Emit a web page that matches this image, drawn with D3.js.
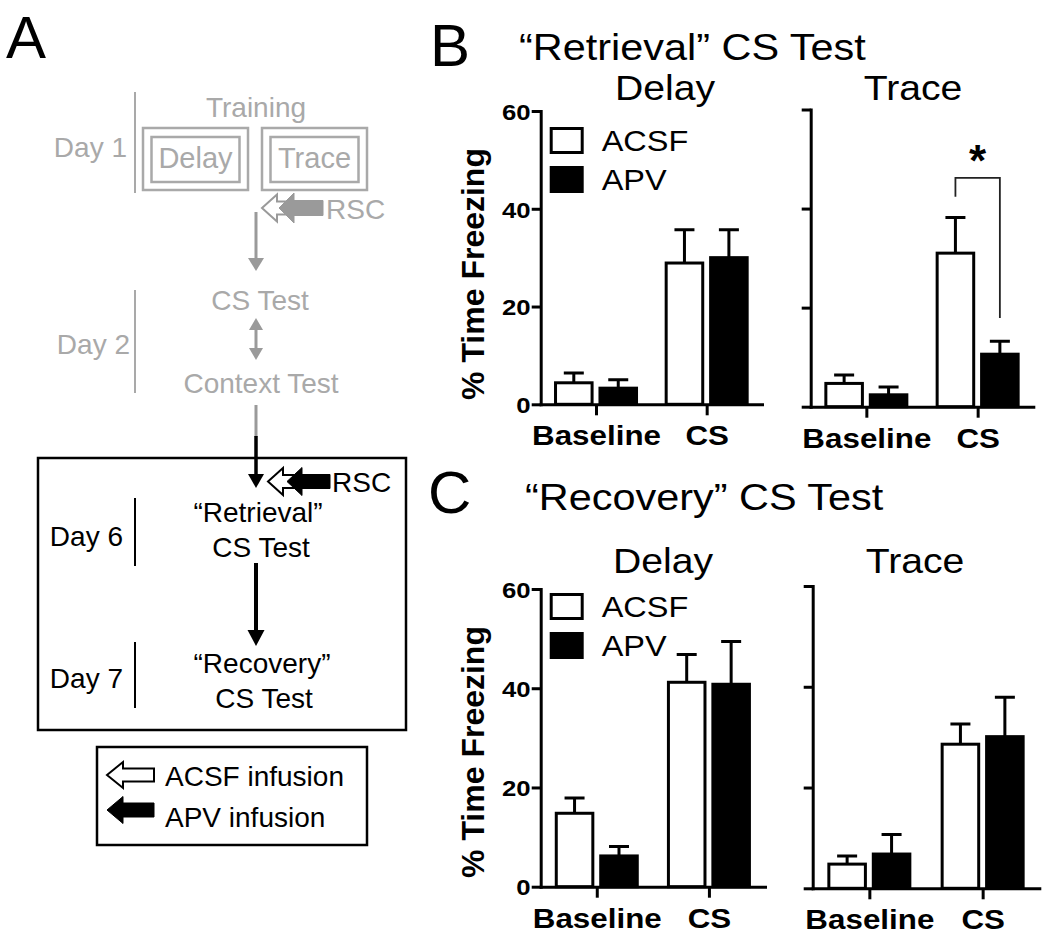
<!DOCTYPE html>
<html><head><meta charset="utf-8">
<script src="https://cdn.jsdelivr.net/npm/d3@7/dist/d3.min.js"></script>
<style>body{margin:0;background:#fff}svg{display:block}</style>
</head><body>
<svg id="chart" width="1050" height="937"></svg>
<script>
// ---------------- DATA ----------------
const categories = ["Baseline", "CS"];
const treatments = ["ACSF", "APV"];
const yTickValues = [0, 20, 40, 60];

const retrievalDelayACSF = [4.4, 28.9];
const retrievalDelayACSFsem = [2.0, 6.8];
const retrievalDelayAPV = [3.3, 30.0];
const retrievalDelayAPVsem = [1.7, 5.7];

const retrievalTraceACSF = [4.7, 31.0];
const retrievalTraceACSFsem = [1.7, 7.2];
const retrievalTraceAPV = [2.4, 10.6];
const retrievalTraceAPVsem = [1.6, 2.6];

const recoveryDelayACSF = [14.8, 41.2];
const recoveryDelayACSFsem = [3.1, 5.6];
const recoveryDelayAPV = [6.2, 40.8];
const recoveryDelayAPVsem = [1.9, 8.6];

const recoveryTraceACSF = [4.8, 28.6];
const recoveryTraceACSFsem = [1.6, 4.0];
const recoveryTraceAPV = [6.8, 30.1];
const recoveryTraceAPVsem = [3.9, 7.8];

// significance bracket (Retrieval / Trace, CS): leg ends in % units
const sigBracket = { category: "CS", leftEnd: 42.4, top: 46.2, rightEnd: 17.9, label: "*" };

// ---------------- SETUP ----------------
const FONT = "'Liberation Sans', Arial, Helvetica, sans-serif";
const SX = 1.12; // horizontal text stretch for panels B & C
const svg = d3.select("#chart");

function txt(g, x, y, s, o = {}) {
  const t = g.append("text")
    .attr("x", 0).attr("y", 0)
    .attr("transform", `translate(${x},${y}) scale(${o.sx || 1},1)` + (o.rot ? ` rotate(${o.rot})` : ""))
    .attr("font-family", FONT)
    .attr("font-size", o.size || 28)
    .attr("font-weight", o.weight || "normal")
    .attr("text-anchor", o.anchor || "start")
    .attr("fill", o.fill || "#000")
    .text(s);
  return t;
}

function buildRows(acsf, acsfSem, apv, apvSem) {
  return categories.map((c, i) => ({
    category: c,
    values: [
      { t: "ACSF", v: acsf[i], e: acsfSem[i] },
      { t: "APV", v: apv[i], e: apvSem[i] }
    ]
  }));
}

function drawPanel(p) {
  const g = svg.append("g");
  const y = d3.scaleLinear().domain([0, 60]).range([p.y0, p.y60]);
  const x = d3.scalePoint().domain(categories).range([p.x0, p.x1]).padding(0.5);
  const xs = d3.scaleBand().domain(treatments).range([-42, 42]).paddingInner(0.11);

  // title
  txt(g, p.titleX, p.titleY, p.title, { size: 35, anchor: "middle", sx: SX });

  // bars
  const grp = g.selectAll("g.cat").data(p.rows).join("g")
    .attr("transform", d => `translate(${x(d.category)},0)`);
  grp.selectAll("rect").data(d => d.values).join("rect")
    .attr("x", d => xs(d.t) + 1.5)
    .attr("width", xs.bandwidth() - 3)
    .attr("y", d => y(d.v))
    .attr("height", d => y(0) - y(d.v))
    .attr("fill", d => d.t === "ACSF" ? "#fff" : "#000")
    .attr("stroke", "#000").attr("stroke-width", 3);
  grp.selectAll("path.err").data(d => d.values).join("path")
    .attr("class", "err")
    .attr("d", d => {
      const cx = xs(d.t) + xs.bandwidth() / 2;
      return `M${cx},${y(d.v)}V${y(d.v + d.e)}M${cx - 10},${y(d.v + d.e)}H${cx + 10}`;
    })
    .attr("fill", "none").attr("stroke", "#000").attr("stroke-width", 3);

  // y axis
  const ya = g.append("g").attr("transform", `translate(${p.x0},0)`)
    .call(d3.axisLeft(y).tickValues(yTickValues).tickSize(9).tickSizeOuter(0)
      .tickFormat(p.yLabels ? d3.format("d") : () => ""));
  ya.select(".domain").attr("stroke-width", 3).attr("stroke-linecap", "square");
  ya.selectAll(".tick line").attr("stroke-width", 3);
  ya.selectAll(".tick text")
    .attr("font-family", FONT).attr("font-size", 23).attr("font-weight", "bold")
    .attr("x", -9).attr("dy", "0.36em").attr("transform", `scale(${SX},1)`);

  // x axis
  const xa = g.append("g").attr("transform", `translate(0,${p.y0})`)
    .call(d3.axisBottom(x).tickSize(11).tickSizeOuter(0));
  xa.select(".domain").attr("stroke-width", 3).attr("stroke-linecap", "square");
  xa.selectAll(".tick line").attr("stroke-width", 3);
  xa.selectAll(".tick text")
    .attr("font-family", FONT).attr("font-size", 28).attr("font-weight", "bold")
    .attr("y", 41).attr("dy", 0).attr("transform", `scale(${SX},1)`);

  // y title
  if (p.yTitle) {
    txt(g, 484, p.yTitleY, "% Time Freezing", { size: 32, weight: "bold", anchor: "middle", rot: -90 });
  }

  // legend
  if (p.legend) {
    treatments.forEach((t, i) => {
      const ly = p.legendY[i];
      g.append("rect").attr("x", p.x0 + 10.5).attr("y", ly + 1.5).attr("width", 31).attr("height", 24)
        .attr("fill", t === "ACSF" ? "#fff" : "#000").attr("stroke", "#000").attr("stroke-width", 3);
      txt(g, p.x0 + 61, ly + 24, t, { size: 29, sx: SX });
    });
  }

  // significance
  if (p.sig) {
    const s = p.sig;
    const cx = x(s.category);
    const lx = cx + xs("ACSF") + xs.bandwidth() / 2;
    const rx = cx + xs("APV") + xs.bandwidth() / 2;
    g.append("path")
      .attr("d", `M${lx},${y(s.leftEnd)}V${y(s.top)}H${rx}V${y(s.rightEnd)}`)
      .attr("fill", "none").attr("stroke", "#222").attr("stroke-width", 1.8);
    txt(g, (lx + rx) / 2, y(s.top) - 2, s.label, { size: 44, weight: "bold", anchor: "middle" });
  }
}

// panel letters & titles
txt(svg, 430, 66, "B", { size: 60 });
txt(svg, 519, 60, "\u201CRetrieval\u201D CS Test", { size: 37, sx: SX });
txt(svg, 428, 513, "C", { size: 60 });
txt(svg, 525, 510, "\u201CRecovery\u201D CS Test", { size: 37, sx: SX });

drawPanel({ x0: 540.7, x1: 762, y0: 404.3, y60: 111, title: "Delay", titleX: 665, titleY: 100,
  rows: buildRows(retrievalDelayACSF, retrievalDelayACSFsem, retrievalDelayAPV, retrievalDelayAPVsem),
  yLabels: true, yTitle: true, yTitleY: 274, legend: true, legendY: [127, 166] });
drawPanel({ x0: 810.7, x1: 1033.3, y0: 406.7, y60: 109.5, title: "Trace", titleX: 913, titleY: 100,
  rows: buildRows(retrievalTraceACSF, retrievalTraceACSFsem, retrievalTraceAPV, retrievalTraceAPVsem),
  yLabels: false, sig: sigBracket });
drawPanel({ x0: 540.7, x1: 765, y0: 886.7, y60: 589, title: "Delay", titleX: 663, titleY: 573,
  rows: buildRows(recoveryDelayACSF, recoveryDelayACSFsem, recoveryDelayAPV, recoveryDelayAPVsem),
  yLabels: true, yTitle: true, yTitleY: 752, legend: true, legendY: [593, 632] });
drawPanel({ x0: 812.7, x1: 1039.3, y0: 888.3, y60: 586, title: "Trace", titleX: 915, titleY: 573,
  rows: buildRows(recoveryTraceACSF, recoveryTraceACSFsem, recoveryTraceAPV, recoveryTraceAPVsem),
  yLabels: false });

// ---------------- PANEL A (schematic) ----------------
const A = svg.append("g");
const GRAY = "#a9a9a9", GRAYD = "#9a9a9a";
txt(A, 6, 58, "A", { size: 60 });

function leftArrow(g, tip, cy, headLen, headH, shaftH, tail, fill, stroke, sw) {
  g.append("path").attr("d",
    `M${tip},${cy}L${tip + headLen},${cy - headH / 2}V${cy - shaftH / 2}H${tail}V${cy + shaftH / 2}H${tip + headLen}V${cy + headH / 2}Z`)
    .attr("fill", fill).attr("stroke", stroke).attr("stroke-width", sw).attr("stroke-linejoin", "miter");
}
function downArrow(g, x, y1, tip, color, sw, headW, headLen) {
  g.append("line").attr("x1", x).attr("x2", x).attr("y1", y1).attr("y2", tip - headLen + 1)
    .attr("stroke", color).attr("stroke-width", sw);
  g.append("path").attr("d", `M${x - headW / 2},${tip - headLen}H${x + headW / 2}L${x},${tip}Z`).attr("fill", color);
}
function upHead(g, x, tip, color, headW, headLen) {
  g.append("path").attr("d", `M${x - headW / 2},${tip + headLen}H${x + headW / 2}L${x},${tip}Z`).attr("fill", color);
}

// Day 1
A.append("line").attr("x1", 135).attr("x2", 135).attr("y1", 92).attr("y2", 193).attr("stroke", GRAY).attr("stroke-width", 2);
txt(A, 127, 157, "Day 1", { fill: GRAY, anchor: "end" });
txt(A, 256, 117, "Training", { fill: GRAY, anchor: "middle" });
[[143, 248, "Delay"], [262, 367, "Trace"]].forEach(([a, b, s]) => {
  A.append("rect").attr("x", a).attr("y", 128).attr("width", b - a).attr("height", 62).attr("fill", "none").attr("stroke", GRAY).attr("stroke-width", 2.5);
  A.append("rect").attr("x", a + 8.5).attr("y", 137).attr("width", b - a - 17).attr("height", 45).attr("fill", "none").attr("stroke", GRAY).attr("stroke-width", 2.5);
  txt(A, (a + b) / 2, 168, s, { fill: GRAY, anchor: "middle", size: 29 });
});
leftArrow(A, 262, 208, 15, 27, 13, 300, "#fff", GRAYD, 2);
leftArrow(A, 279, 208, 15, 30, 15, 323, GRAYD, GRAYD, 1);
txt(A, 326, 219, "RSC", { fill: GRAY });
downArrow(A, 256, 212, 271, GRAYD, 3, 16, 13);

// Day 2
A.append("line").attr("x1", 135).attr("x2", 135).attr("y1", 290).attr("y2", 393).attr("stroke", GRAY).attr("stroke-width", 2);
txt(A, 130, 354, "Day 2", { fill: GRAY, anchor: "end" });
txt(A, 260, 310, "CS Test", { fill: GRAY, anchor: "middle" });
txt(A, 261, 393, "Context Test", { fill: GRAY, anchor: "middle" });
A.append("line").attr("x1", 256).attr("x2", 256).attr("y1", 328).attr("y2", 350).attr("stroke", GRAYD).attr("stroke-width", 3);
upHead(A, 256, 318, GRAYD, 14, 12);
A.append("path").attr("d", `M249,348H263L256,360Z`).attr("fill", GRAYD);

// connector
A.append("line").attr("x1", 256).attr("x2", 256).attr("y1", 405).attr("y2", 437).attr("stroke", GRAYD).attr("stroke-width", 3);

// main box
A.append("rect").attr("x", 38).attr("y", 458).attr("width", 368).attr("height", 272).attr("fill", "none").attr("stroke", "#000").attr("stroke-width", 2.5);
downArrow(A, 256, 436, 488, "#000", 3.5, 16, 14);
leftArrow(A, 268, 481.5, 15, 27, 13, 300, "#fff", "#000", 2);
leftArrow(A, 287, 481.5, 15, 28, 14, 330, "#000", "#000", 1);
txt(A, 332, 492, "RSC");

A.append("line").attr("x1", 135).attr("x2", 135).attr("y1", 498).attr("y2", 566).attr("stroke", "#000").attr("stroke-width", 2);
txt(A, 123, 546, "Day 6", { anchor: "end" });
txt(A, 258, 522, "\u201CRetrieval\u201D", { anchor: "middle" });
txt(A, 261, 557, "CS Test", { anchor: "middle" });
downArrow(A, 256, 563, 646, "#000", 4, 17, 16);

A.append("line").attr("x1", 135).attr("x2", 135).attr("y1", 642).attr("y2", 708).attr("stroke", "#000").attr("stroke-width", 2);
txt(A, 123, 688, "Day 7", { anchor: "end" });
txt(A, 262, 673, "\u201CRecovery\u201D", { anchor: "middle" });
txt(A, 264, 708, "CS Test", { anchor: "middle" });

// legend box
A.append("rect").attr("x", 97).attr("y", 747).attr("width", 270).attr("height", 98).attr("fill", "none").attr("stroke", "#000").attr("stroke-width", 2.5);
leftArrow(A, 107, 775, 16, 26, 13, 154, "#fff", "#000", 2);
leftArrow(A, 107, 810, 16, 27, 14, 154, "#000", "#000", 1);
txt(A, 165, 786, "ACSF infusion");
txt(A, 165, 827, "APV infusion");
</script>
</body></html>
